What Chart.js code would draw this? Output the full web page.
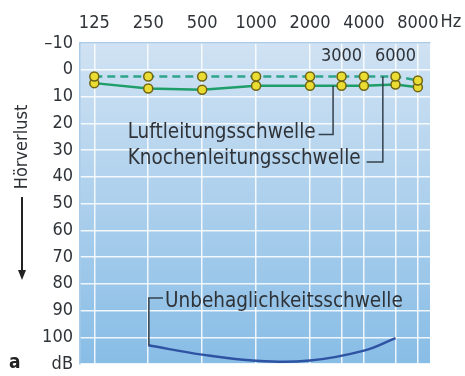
<!DOCTYPE html>
<html>
<head>
<meta charset="utf-8">
<script src="https://cdn.jsdelivr.net/npm/chart.js@4.4.1/dist/chart.umd.min.js"></script>
<style>
  body { margin: 0; background: #fff; }
  #wrap { width: 465px; height: 376px; }
</style>
</head>
<body>
<div id="wrap"><canvas id="audiogramm" width="465" height="376"></canvas></div>
<script>
// Frequenzen (Hz) und Schwellen (dB)
const frequenzen = [125, 250, 500, 1000, 2000, 3000, 4000, 6000, 8000];
const knochenleitung = [2.5, 2.5, 2.5, 2.5, 2.5, 2.5, 2.5, 2.5, 4];
const luftleitung = [5, 7, 7.5, 6, 6, 6, 6, 5.5, 6.5];
const unbehagFrequenzen = [250, 500, 1000, 2000, 4000, 6000];
const unbehagSchwelle = [103, 106.5, 108.8, 108.7, 105, 100.3];

// Achsenbeschriftungen
const obereLabels = [125, 250, 500, 1000, 2000, 4000, 8000];
const innereLabels = [3000, 6000];
const dbTicks = [-10, 0, 10, 20, 30, 40, 50, 60, 70, 80, 90, 100, 110];
const dbLabels = ["–10", "0", "10", "20", "30", "40", "50", "60", "70", "80", "90", "100", "dB"];

const FONT = '"Liberation Sans Narrow", "DejaVu Sans Condensed", "Arial Narrow", sans-serif';
const TEXT = "#2f3338";

const ctx = document.getElementById("audiogramm").getContext("2d");

const hintergrund = {
    id: "hintergrund",
    beforeDraw(chart) {
        const { ctx, chartArea: a } = chart;
        const g = ctx.createLinearGradient(0, a.top, 0, a.bottom);
        g.addColorStop(0, "#d0e2f3");
        g.addColorStop(1, "#88bde6");
        ctx.save();
        ctx.fillStyle = g;
        ctx.fillRect(a.left, a.top, a.right - a.left, a.bottom - a.top);
        ctx.restore();
    }
};

const beschriftung = {
    id: "beschriftung",
    afterDatasetsDraw(chart) {
        const { ctx, scales: { x, y } } = chart;
        ctx.save();
        ctx.font = "18px " + FONT;
        ctx.fillStyle = TEXT;
        ctx.textBaseline = "middle";

        // 3000 / 6000 innerhalb des Diagramms
        ctx.textAlign = "center";
        innereLabels.forEach(f => ctx.fillText(String(f), x.getPixelForValue(f), y.getPixelForValue(-5)));

        // Hz hinter 8000
        ctx.textAlign = "left";
        const w8000 = ctx.measureText("8000").width;
        ctx.fillText("Hz", x.getPixelForValue(8000) + w8000 / 2 + 2, 22);

        ctx.font = "20.5px " + FONT;
        ctx.strokeStyle = "#34404c";
        ctx.lineWidth = 1.5;

        // Luftleitungsschwelle
        let tx = x.getPixelForValue(192);
        let ty = y.getPixelForValue(23.5);
        ctx.fillText("Luftleitungsschwelle", tx, ty);
        let lx = x.getPixelForValue(2690);
        let ende = tx + ctx.measureText("Luftleitungsschwelle").width + 3;
        ctx.beginPath();
        ctx.moveTo(ende, ty + 2);
        ctx.lineTo(lx, ty + 2);
        ctx.lineTo(lx, y.getPixelForValue(6));
        ctx.stroke();

        // Knochenleitungsschwelle
        ty = y.getPixelForValue(33.4);
        ctx.fillText("Knochenleitungsschwelle", tx, ty);
        lx = x.getPixelForValue(5100);
        ende = tx + ctx.measureText("Knochenleitungsschwelle").width + 6;
        ctx.beginPath();
        ctx.moveTo(ende, ty + 3);
        ctx.lineTo(lx, ty + 3);
        ctx.lineTo(lx, y.getPixelForValue(2.5));
        ctx.stroke();

        // Unbehaglichkeitsschwelle
        tx = x.getPixelForValue(310);
        ty = y.getPixelForValue(86.8);
        ctx.fillText("Unbehaglichkeitsschwelle", tx, ty);
        lx = x.getPixelForValue(252);
        ctx.beginPath();
        ctx.moveTo(tx - 2, ty - 4);
        ctx.lineTo(lx, ty - 4);
        ctx.lineTo(lx, y.getPixelForValue(103));
        ctx.stroke();

        // Hörverlust mit Pfeil
        ctx.font = "18px " + FONT;
        ctx.fillStyle = TEXT;
        ctx.save();
        ctx.translate(22, 147);
        ctx.rotate(-Math.PI / 2);
        ctx.textAlign = "center";
        ctx.fillText("Hörverlust", 0, 0);
        ctx.restore();
        ctx.strokeStyle = "#222";
        ctx.lineWidth = 2;
        ctx.beginPath();
        ctx.moveTo(22, 197);
        ctx.lineTo(22, 272);
        ctx.stroke();
        ctx.fillStyle = "#222";
        ctx.beginPath();
        ctx.moveTo(18, 270);
        ctx.lineTo(26, 270);
        ctx.lineTo(22, 280);
        ctx.closePath();
        ctx.fill();

        // Teilbild a
        ctx.font = "bold 19px " + FONT;
        ctx.textAlign = "left";
        ctx.fillText("a", 9, 363);
        ctx.restore();
    }
};

const punkt = {
    pointRadius: 4.5,
    pointBackgroundColor: "#eadc32",
    pointBorderColor: "#6e6412",
    pointBorderWidth: 1.5
};

new Chart(ctx, {
    type: "line",
    data: {
        datasets: [
            {
                label: "Knochenleitungsschwelle",
                data: frequenzen.map((f, i) => ({ x: f, y: knochenleitung[i] })),
                borderColor: "#2ea58a",
                borderWidth: 2.5,
                borderDash: [8, 5],
                tension: 0,
                ...punkt
            },
            {
                label: "Luftleitungsschwelle",
                data: frequenzen.map((f, i) => ({ x: f, y: luftleitung[i] })),
                borderColor: "#1f9e6a",
                borderWidth: 2.5,
                tension: 0,
                ...punkt
            },
            {
                label: "Unbehaglichkeitsschwelle",
                data: unbehagFrequenzen.map((f, i) => ({ x: f, y: unbehagSchwelle[i] })),
                borderColor: "#2f53a3",
                borderWidth: 2.5,
                pointRadius: 0,
                tension: 0.4
            }
        ]
    },
    options: {
        responsive: false,
        animation: false,
        layout: { padding: { top: 0, right: 35, bottom: 12, left: 0 } },
        plugins: {
            legend: { display: false },
            tooltip: { enabled: false }
        },
        scales: {
            x: {
                type: "logarithmic",
                position: "top",
                min: 104,
                max: 9350,
                afterBuildTicks: axis => { axis.ticks = frequenzen.map(v => ({ value: v })); },
                afterFit: axis => { axis.height = 43; },
                grid: { color: "rgba(255,255,255,0.85)", lineWidth: 1.5, drawTicks: false },
                border: { color: "#a9cbe8", width: 1.5 },
                ticks: {
                    autoSkip: false,
                    maxRotation: 0,
                    padding: 9,
                    color: TEXT,
                    font: { family: FONT, size: 18 },
                    callback: v => obereLabels.includes(v) ? String(v) : ""
                }
            },
            y: {
                reverse: true,
                min: -10,
                max: 110,
                afterBuildTicks: axis => { axis.ticks = dbTicks.map(v => ({ value: v })); },
                afterFit: axis => {
                    axis.width = 80;
                    axis.paddingTop = 0;
                    axis.paddingBottom = 0;
                },
                grid: { color: "rgba(255,255,255,0.85)", lineWidth: 1.5, drawTicks: false },
                border: { color: "#a9cbe8", width: 1.5 },
                ticks: {
                    autoSkip: false,
                    padding: 7,
                    color: TEXT,
                    font: { family: FONT, size: 18 },
                    callback: v => dbLabels[dbTicks.indexOf(v)]
                }
            }
        }
    },
    plugins: [hintergrund, beschriftung]
});
</script>
</body>
</html>
